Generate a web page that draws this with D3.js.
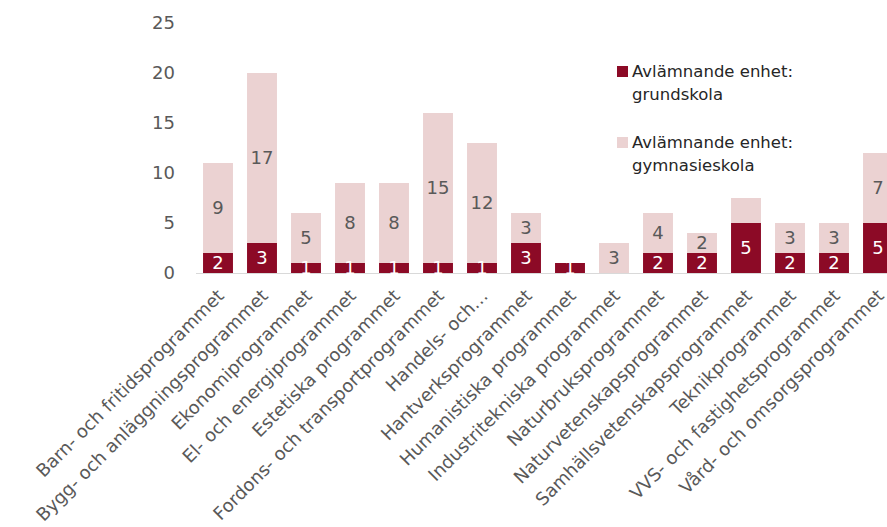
<!DOCTYPE html>
<html><head><meta charset="utf-8">
<script src="https://cdn.jsdelivr.net/npm/d3@7"></script>
<style>
html,body{margin:0;padding:0;background:#fff;}
svg{display:block;font-family:"DejaVu Sans","Liberation Sans",Arial,sans-serif;}
</style></head>
<body>
<svg id="chart" width="887" height="527"></svg>
<script>
const categories = [
  "Barn- och fritidsprogrammet",
  "Bygg- och anläggningsprogrammet",
  "Ekonomiprogrammet",
  "El- och energiprogrammet",
  "Estetiska programmet",
  "Fordons- och transportprogrammet",
  "Handels- och…",
  "Hantverksprogrammet",
  "Humanistiska programmet",
  "Industritekniska programmet",
  "Naturbruksprogrammet",
  "Naturvetenskapsprogrammet",
  "Samhällsvetenskapsprogrammet",
  "Teknikprogrammet",
  "VVS- och fastighetsprogrammet",
  "Vård- och omsorgsprogrammet"
];
const grundskola   = [2, 3, 1, 1, 1, 1, 1, 3, 1, 0, 2, 2, 5, 2, 2, 5];
const gymnasieskola = [9, 17, 5, 8, 8, 15, 12, 3, 0, 3, 4, 2, 2.5, 3, 3, 7];
const gymLabels = ["9","17","5","8","8","15","12","3","","3","4","2","","3","3","7"];
const seriesNames = ["Avlämnande enhet: grundskola", "Avlämnande enhet: gymnasieskola"];
const yTicks = [0, 5, 10, 15, 20, 25];

const svg = d3.select("#chart");
const dark = "#8c0a26", light = "#ebd2d2";

const x = d3.scaleBand().domain(categories).range([196, 900]).paddingInner(0.32).paddingOuter(0.16);
const y = d3.scaleLinear().domain([0, 25]).range([273, 23]);

// y tick labels
svg.append("g").selectAll("text").data(yTicks).join("text")
  .attr("x", 175).attr("y", d => y(d)).attr("dy", "0.36em")
  .attr("text-anchor", "end").attr("fill", "#595959").attr("font-size", 18)
  .text(d => d);

// axis line
svg.append("line").attr("x1", 196).attr("x2", 887).attr("y1", y(0) + 0.5).attr("y2", y(0) + 0.5)
  .attr("stroke", "#d9d9d9").attr("stroke-width", 1.2);

const data = categories.map((c, i) => ({c, g: grundskola[i], s: gymnasieskola[i], lab: gymLabels[i]}));

const bars = svg.append("g");
bars.selectAll("rect.g").data(data).join("rect").attr("class", "g")
  .attr("x", d => x(d.c)).attr("width", x.bandwidth())
  .attr("y", d => y(d.g)).attr("height", d => y(0) - y(d.g)).attr("fill", dark);
bars.selectAll("rect.s").data(data).join("rect").attr("class", "s")
  .attr("x", d => x(d.c)).attr("width", x.bandwidth())
  .attr("y", d => y(d.g + d.s)).attr("height", d => y(d.g) - y(d.g + d.s)).attr("fill", light);

// labels
svg.append("g").selectAll("text").data(data.filter(d => d.g > 0)).join("text")
  .attr("x", d => x(d.c) + x.bandwidth() / 2).attr("y", d => y(d.g / 2)).attr("dy", "0.36em")
  .attr("text-anchor", "middle").attr("fill", "#fff").attr("font-size", 18)
  .text(d => d.g);
svg.append("g").selectAll("text").data(data.filter(d => d.s > 0 && d.lab)).join("text")
  .attr("x", d => x(d.c) + x.bandwidth() / 2).attr("y", d => y(d.g + d.s / 2)).attr("dy", "0.36em")
  .attr("text-anchor", "middle").attr("fill", "#595959").attr("font-size", 18)
  .text(d => d.lab);

// category labels
svg.append("g").selectAll("text").data(categories).join("text")
  .attr("transform", d => `translate(${x(d) + x.bandwidth() / 2 + 7},${297}) rotate(-45)`)
  .attr("text-anchor", "end").attr("fill", "#595959").attr("font-size", 18)
  .text(d => d);

// legend
const legend = svg.append("g");
const legColors = [dark, light];
const legY = [66, 137];
seriesNames.forEach((n, i) => {
  legend.append("rect").attr("x", 617).attr("y", legY[i]).attr("width", 11).attr("height", 11).attr("fill", legColors[i]);
  const parts = [n.slice(0, n.indexOf(":") + 1), n.slice(n.indexOf(":") + 2)];
  const t = legend.append("text").attr("x", 632).attr("y", legY[i] + 11).attr("fill", "#262626").attr("font-size", 16.5);
  parts.forEach((p, j) => t.append("tspan").attr("x", 632).attr("dy", j === 0 ? 0 : 23).text(p));
});
</script>
</body></html>
